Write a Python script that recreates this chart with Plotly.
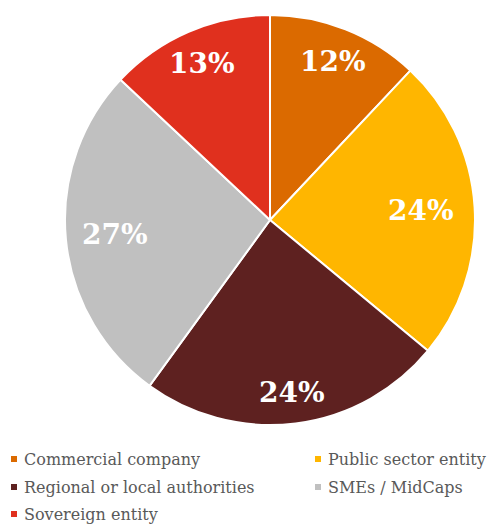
import math
import plotly.graph_objects as go

# Share of counterparties by type
categories = ["Commercial company", "Public sector entity", "Regional or local authorities",
              "SMEs / MidCaps", "Sovereign entity"]
shares = [12, 24, 24, 27, 13]
colors = ["#DB6A00", "#FFB600", "#5E2120", "#C0C0C0", "#E0301E"]

W, H = 490, 525
cx, cy, R = 270, 220, 205  # pie centre and radius in pixels

fig = go.Figure(go.Pie(
    labels=categories,
    values=shares,
    sort=False,
    direction="clockwise",
    rotation=0,
    marker=dict(colors=colors, line=dict(color="white", width=2)),
    textinfo="none",
    hoverinfo="label+percent",
    showlegend=False,
    domain=dict(x=[(cx - R) / W, (cx + R) / W], y=[(H - cy - R) / H, (H - cy + R) / H]),
))

# Percentage labels placed on each slice's mid-angle
label_radius = [0.83, 0.74, 0.85, 0.76, 0.83]
total = sum(shares)
cum = 0
annotations = []
for v, rf in zip(shares, label_radius):
    mid = (cum + v / 2) / total * 2 * math.pi
    cum += v
    px = cx + rf * R * math.sin(mid)
    py = cy - rf * R * math.cos(mid)
    annotations.append(dict(
        x=px / W, y=1 - py / H, xref="paper", yref="paper",
        xanchor="center", yanchor="middle",
        text=f"<b>{round(v / total * 100)}%</b>", showarrow=False,
        font=dict(family="DejaVu Serif", size=28, color="white"),
    ))

# Two-column legend below the pie: square swatch + label
shapes = []
col_x = [14, 318]
row_y = [459, 487, 514]
for i, (name, c) in enumerate(zip(categories, colors)):
    mx = col_x[i % 2]
    my = row_y[i // 2]
    shapes.append(dict(
        type="rect", xref="paper", yref="paper",
        x0=(mx - 3) / W, x1=(mx + 3) / W, y0=1 - (my + 3) / H, y1=1 - (my - 3) / H,
        fillcolor=c, line=dict(width=0),
    ))
    annotations.append(dict(
        x=(mx + 8) / W, y=1 - my / H, xref="paper", yref="paper",
        xanchor="left", yanchor="middle", text=name, showarrow=False,
        font=dict(family="DejaVu Serif", size=16, color="#595959"),
    ))

fig.update_layout(
    width=W, height=H,
    margin=dict(l=0, r=0, t=0, b=0),
    paper_bgcolor="white",
    annotations=annotations,
    shapes=shapes,
    showlegend=False,
)

fig.write_html("out.html")
